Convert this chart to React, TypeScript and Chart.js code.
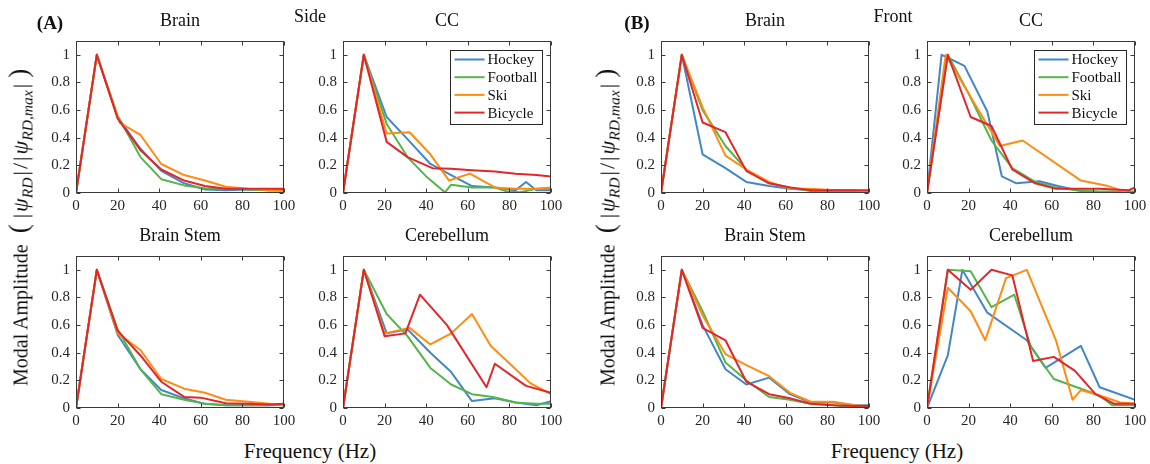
import React, { useEffect, useRef } from "react";
import { Chart, registerables } from "chart.js";

Chart.register(...registerables);

type Pt = [number, number];

const seriesNames = ["Hockey", "Football", "Ski", "Bicycle"];
const seriesColors = ["#4387c7", "#55b548", "#ff8c12", "#e3262a"];
const xTicks = [0, 20, 40, 60, 80, 100];
const yTicks = [0, 0.2, 0.4, 0.6, 0.8, 1];

// ---- (A) Side ----
const sideBrainHockey: Pt[] = [[0, 0], [10, 1], [20, 0.55], [31, 0.32], [41, 0.16], [52, 0.07], [62, 0.025], [72, 0.02], [83, 0.025], [93, 0.02], [100, 0.02]];
const sideBrainFootball: Pt[] = [[0, 0], [10, 1], [20, 0.56], [31, 0.26], [41, 0.1], [52, 0.055], [62, 0.035], [72, 0.03], [83, 0.025], [93, 0.02], [100, 0.02]];
const sideBrainSki: Pt[] = [[0, 0], [10, 1], [21, 0.51], [31, 0.42], [41, 0.21], [52, 0.13], [62, 0.09], [72, 0.045], [83, 0.03], [93, 0.02], [100, 0.015]];
const sideBrainBicycle: Pt[] = [[0, 0], [10, 1], [20, 0.54], [31, 0.31], [41, 0.17], [52, 0.09], [62, 0.05], [72, 0.03], [83, 0.03], [93, 0.03], [100, 0.03]];

const sideCCHockey: Pt[] = [[0, 0], [10, 1], [21, 0.55], [31, 0.39], [42, 0.21], [52, 0.13], [62, 0.05], [73, 0.04], [83, 0.02], [88, 0.08], [93, 0.02], [100, 0.02]];
const sideCCFootball: Pt[] = [[0, 0], [10, 1], [21, 0.5], [31, 0.26], [40, 0.12], [49, 0.005], [52, 0.06], [62, 0.04], [73, 0.04], [79, 0.01], [85, 0.005], [93, 0.03], [100, 0.03]];
const sideCCSki: Pt[] = [[0, 0], [10, 1], [21, 0.43], [32, 0.44], [42, 0.28], [51, 0.09], [61, 0.14], [73, 0.04], [83, 0.03], [93, 0.03], [100, 0.04]];
const sideCCBicycle: Pt[] = [[0, 0], [10, 1], [21, 0.37], [31, 0.26], [43, 0.18], [52, 0.175], [62, 0.165], [73, 0.155], [83, 0.14], [93, 0.13], [100, 0.12]];

const sideStemHockey: Pt[] = [[0, 0], [10, 1], [20, 0.53], [31, 0.28], [41, 0.13], [52, 0.07], [62, 0.03], [72, 0.02], [83, 0.02], [93, 0.02], [100, 0.03]];
const sideStemFootball: Pt[] = [[0, 0], [10, 1], [20, 0.57], [31, 0.28], [41, 0.1], [52, 0.06], [62, 0.03], [72, 0.02], [83, 0.02], [93, 0.02], [100, 0.02]];
const sideStemSki: Pt[] = [[0, 0], [10, 1], [20, 0.54], [31, 0.42], [41, 0.21], [52, 0.14], [62, 0.11], [72, 0.06], [83, 0.045], [93, 0.03], [100, 0.02]];
const sideStemBicycle: Pt[] = [[0, 0], [10, 1], [20, 0.56], [31, 0.38], [41, 0.19], [52, 0.08], [60, 0.075], [72, 0.035], [83, 0.03], [93, 0.025], [100, 0.03]];

const sideCereHockey: Pt[] = [[0, 0], [10, 1], [21, 0.54], [31, 0.57], [42, 0.4], [52, 0.26], [62, 0.05], [73, 0.07], [83, 0.04], [93, 0.02], [100, 0.05]];
const sideCereFootball: Pt[] = [[0, 0], [10, 1], [21, 0.68], [31, 0.52], [42, 0.29], [52, 0.17], [62, 0.1], [72, 0.08], [83, 0.04], [93, 0.03], [100, 0.03]];
const sideCereSki: Pt[] = [[0, 0], [10, 1], [20, 0.54], [32, 0.58], [42, 0.46], [52, 0.54], [62, 0.68], [71, 0.45], [81, 0.31], [90, 0.18], [100, 0.1]];
const sideCereBicycle: Pt[] = [[0, 0], [10, 1], [20, 0.52], [30, 0.54], [37, 0.82], [50, 0.6], [69, 0.15], [73, 0.32], [88, 0.16], [100, 0.11]];

// ---- (B) Front ----
const frontBrainHockey: Pt[] = [[0, 0], [10, 1], [20, 0.28], [31, 0.18], [41, 0.08], [52, 0.05], [62, 0.03], [72, 0.02], [83, 0.02], [93, 0.01], [100, 0.01]];
const frontBrainFootball: Pt[] = [[0, 0], [10, 1], [20, 0.6], [31, 0.34], [41, 0.17], [52, 0.07], [62, 0.04], [72, 0.015], [83, 0.01], [93, 0.005], [100, 0.005]];
const frontBrainSki: Pt[] = [[0, 0], [10, 1], [20, 0.62], [31, 0.27], [41, 0.17], [52, 0.08], [62, 0.03], [72, 0.03], [83, 0.02], [93, 0.02], [100, 0.01]];
const frontBrainBicycle: Pt[] = [[0, 0], [10, 1], [20, 0.51], [31, 0.44], [41, 0.16], [52, 0.07], [62, 0.04], [72, 0.02], [83, 0.02], [93, 0.02], [100, 0.02]];

const frontCCHockey: Pt[] = [[0, 0], [7, 1], [10, 0.98], [18, 0.92], [29, 0.59], [36, 0.12], [43, 0.07], [54, 0.085], [63, 0.05], [72, 0.02], [78, 0.005], [90, 0.005], [100, 0.005]];
const frontCCFootball: Pt[] = [[0, 0], [10, 1], [20, 0.72], [31, 0.38], [41, 0.18], [52, 0.08], [62, 0.04], [72, 0.02], [83, 0.01], [93, 0.01], [100, 0.01]];
const frontCCSki: Pt[] = [[0, 0], [9, 1], [20, 0.72], [35, 0.34], [46, 0.38], [74, 0.09], [86, 0.055], [97, 0], [100, 0]];
const frontCCBicycle: Pt[] = [[0, 0], [10, 1], [21, 0.55], [31, 0.485], [41, 0.17], [52, 0.07], [62, 0.03], [72, 0.03], [83, 0.03], [97, 0.02], [100, 0.04]];

const frontStemHockey: Pt[] = [[0, 0], [10, 1], [20, 0.6], [31, 0.28], [41, 0.17], [52, 0.22], [62, 0.1], [72, 0.04], [83, 0.04], [93, 0.02], [100, 0.02]];
const frontStemFootball: Pt[] = [[0, 0], [10, 1], [20, 0.7], [31, 0.33], [41, 0.2], [52, 0.08], [62, 0.06], [72, 0.03], [83, 0.02], [93, 0.005], [100, 0.005]];
const frontStemSki: Pt[] = [[0, 0], [10, 1], [20, 0.67], [31, 0.39], [41, 0.31], [52, 0.23], [62, 0.11], [72, 0.045], [83, 0.045], [93, 0.02], [100, 0.015]];
const frontStemBicycle: Pt[] = [[0, 0], [10, 1], [20, 0.58], [31, 0.49], [41, 0.19], [52, 0.1], [62, 0.07], [72, 0.03], [83, 0.02], [93, 0.015], [100, 0.015]];

const frontCereHockey: Pt[] = [[0, 0], [10, 0.38], [17, 1], [29, 0.69], [48, 0.49], [57, 0.29], [74, 0.45], [83, 0.15], [100, 0.06]];
const frontCereFootball: Pt[] = [[0, 0], [10, 1], [21, 0.99], [31, 0.73], [42, 0.82], [50, 0.44], [61, 0.21], [72, 0.15], [83, 0.09], [89, 0.02], [100, 0.02]];
const frontCereSki: Pt[] = [[0, 0], [10, 0.87], [21, 0.7], [28, 0.49], [38, 0.94], [48, 1], [62, 0.49], [70, 0.06], [74, 0.13], [83, 0.09], [93, 0.04], [100, 0.03]];
const frontCereBicycle: Pt[] = [[0, 0], [10, 1], [21, 0.855], [31, 1], [41, 0.96], [51, 0.34], [61, 0.37], [71, 0.27], [81, 0.1], [90, 0.03], [100, 0.03]];

const FONT = "'Liberation Serif', 'DejaVu Serif', serif";

// layout constants
const YW = 45;
const PT = 8;
const PR = 16;
const XH = 26;
const PLOT_H = 159;

type PanelProps = {
  left: number;
  top: number;
  width: number;
  series: Pt[][];
  legend?: boolean;
};

function Panel({ left, top, width, series, legend }: PanelProps) {
  const ref = useRef<HTMLCanvasElement | null>(null);
  const cw = YW + width + PR;
  const ch = PT + PLOT_H + XH;

  useEffect(() => {
    if (!ref.current) return;
    const framePlugin = {
      id: "frameTicks",
      afterDatasetsDraw(chart: any) {
        const { ctx, chartArea: a, scales } = chart;
        ctx.save();
        ctx.strokeStyle = "#3a3a3a";
        ctx.lineWidth = 1;
        const L = Math.round(a.left) + 0.5;
        const R = Math.round(a.right) - 0.5;
        const T = Math.round(a.top) + 0.5;
        const B = Math.round(a.bottom) - 0.5;
        ctx.strokeRect(L, T, R - L, B - T);
        ctx.beginPath();
        const tl = 4;
        xTicks.forEach((v) => {
          const px = Math.round(scales.x.getPixelForValue(v)) + 0.5;
          ctx.moveTo(px, B);
          ctx.lineTo(px, B - tl);
          ctx.moveTo(px, T);
          ctx.lineTo(px, T + tl);
        });
        yTicks.forEach((v) => {
          const py = Math.round(scales.y.getPixelForValue(v)) + 0.5;
          ctx.moveTo(L, py);
          ctx.lineTo(L + tl, py);
          ctx.moveTo(R, py);
          ctx.lineTo(R - tl, py);
        });
        ctx.stroke();

        if (legend) {
          const bw = 92;
          const bh = 74;
          const bx = Math.round(a.right - 9 - bw) + 0.5;
          const by = Math.round(a.top + 9) + 0.5;
          ctx.fillStyle = "#ffffff";
          ctx.fillRect(bx, by, bw, bh);
          ctx.strokeStyle = "#262626";
          ctx.strokeRect(bx, by, bw, bh);
          ctx.font = `15px ${FONT}`;
          ctx.textBaseline = "middle";
          ctx.textAlign = "left";
          seriesNames.forEach((name, i) => {
            const y = by + 9 + i * 17.7;
            ctx.strokeStyle = seriesColors[i];
            ctx.lineWidth = 2;
            ctx.beginPath();
            ctx.moveTo(bx + 4, y);
            ctx.lineTo(bx + 34, y);
            ctx.stroke();
            ctx.fillStyle = "#111";
            ctx.fillText(name, bx + 37, y + 1);
          });
        }
        ctx.restore();
      },
    };

    const chart = new Chart(ref.current, {
      type: "line",
      data: {
        datasets: series.map((pts, i) => ({
          label: seriesNames[i],
          data: pts.map(([x, y]) => ({ x, y })),
          borderColor: seriesColors[i],
          backgroundColor: seriesColors[i],
          borderWidth: 2,
          pointRadius: 0,
          tension: 0,
          fill: false,
          borderJoinStyle: "round" as const,
          order: 3 - i,
        })),
      },
      options: {
        responsive: false,
        animation: false,
        events: [],
        layout: { padding: { top: PT, right: PR, left: 0, bottom: 0 } },
        plugins: { legend: { display: false }, tooltip: { enabled: false } },
        scales: {
          x: {
            type: "linear",
            min: 0,
            max: 100,
            afterBuildTicks: (s: any) => {
              s.ticks = xTicks.map((v) => ({ value: v }));
            },
            afterFit: (s: any) => {
              s.height = XH;
            },
            grid: { display: false, drawTicks: false },
            border: { display: false },
            ticks: {
              padding: 4,
              maxRotation: 0,
              autoSkip: false,
              color: "#262626",
              font: { family: FONT, size: 15 },
              callback: (v: any) => String(v),
            },
          },
          y: {
            type: "linear",
            min: 0,
            max: 1.1,
            afterBuildTicks: (s: any) => {
              s.ticks = yTicks.map((v) => ({ value: v }));
            },
            afterFit: (s: any) => {
              s.width = YW;
            },
            grid: { display: false, drawTicks: false },
            border: { display: false },
            ticks: {
              padding: 6,
              autoSkip: false,
              color: "#262626",
              font: { family: FONT, size: 15 },
              callback: (v: any) => String(v),
            },
          },
        },
      },
      plugins: [framePlugin],
    } as any);
    return () => chart.destroy();
  }, []);

  return (
    <div style={{ position: "absolute", left: left - YW, top: top - PT, width: cw, height: ch }}>
      <canvas ref={ref} width={cw} height={ch} style={{ width: cw, height: ch, display: "block" }} />
    </div>
  );
}

const Txt = ({ x, y, size, bold, children }: any) => (
  <div
    style={{
      position: "absolute",
      left: x,
      top: y,
      transform: "translate(-50%, -50%)",
      fontFamily: FONT,
      fontSize: size,
      fontWeight: bold ? "bold" : "normal",
      whiteSpace: "nowrap",
      color: "#111",
      lineHeight: 1,
    }}
  >
    {children}
  </div>
);

const subStyle: React.CSSProperties = { fontSize: "0.78em", verticalAlign: "-0.3em", fontStyle: "italic", lineHeight: 0 };
const barStyle: React.CSSProperties = { margin: "0 2px", fontSize: "1.1em" };
const parStyle: React.CSSProperties = { fontSize: "1.35em", margin: "0 4px" };

// (x, y) = start point (bottom) of the rotated label; text runs upward
const YLabel = ({ x, y }: any) => (
  <div
    style={{
      position: "absolute",
      left: x,
      top: y,
      transformOrigin: "0 50%",
      transform: "translate(0, -50%) rotate(-90deg)",
      fontFamily: FONT,
      fontSize: 20,
      whiteSpace: "nowrap",
      color: "#111",
      lineHeight: 1,
    }}
  >
    Modal Amplitude{" "}
    <span style={{ ...parStyle, marginLeft: 6 }}>(</span>
    <span style={barStyle}>|</span>
    <i style={{ fontSize: "1.1em" }}>ψ</i>
    <span style={subStyle}>RD</span>
    <span style={barStyle}>|</span>
    <span style={{ fontSize: "1.1em" }}>/</span>
    <span style={barStyle}>|</span>
    <i style={{ fontSize: "1.1em" }}>ψ</i>
    <span style={subStyle}>RD,max</span>
    <span style={barStyle}>|</span>
    <span style={parStyle}>)</span>
  </div>
);

export default function App() {
  const W = 208;
  const colA1 = 76;
  const colA2 = 343;
  const colB1 = 661;
  const colB2 = 927;
  const row1 = 34;
  const row2 = 249;
  return (
    <div style={{ position: "fixed", left: 0, top: 0, width: 1150, height: 464, background: "#fff", overflow: "hidden" }}>
      <Panel left={colA1} top={row1} width={W} series={[sideBrainHockey, sideBrainFootball, sideBrainSki, sideBrainBicycle]} />
      <Panel left={colA2} top={row1} width={W} series={[sideCCHockey, sideCCFootball, sideCCSki, sideCCBicycle]} legend />
      <Panel left={colA1} top={row2} width={W} series={[sideStemHockey, sideStemFootball, sideStemSki, sideStemBicycle]} />
      <Panel left={colA2} top={row2} width={W} series={[sideCereHockey, sideCereFootball, sideCereSki, sideCereBicycle]} />
      <Panel left={colB1} top={row1} width={W} series={[frontBrainHockey, frontBrainFootball, frontBrainSki, frontBrainBicycle]} />
      <Panel left={colB2} top={row1} width={W} series={[frontCCHockey, frontCCFootball, frontCCSki, frontCCBicycle]} legend />
      <Panel left={colB1} top={row2} width={W} series={[frontStemHockey, frontStemFootball, frontStemSki, frontStemBicycle]} />
      <Panel left={colB2} top={row2} width={W} series={[frontCereHockey, frontCereFootball, frontCereSki, frontCereBicycle]} />

      <Txt x={50} y={22} size={19} bold>(A)</Txt>
      <Txt x={180} y={20} size={18}>Brain</Txt>
      <Txt x={310} y={16} size={18}>Side</Txt>
      <Txt x={447} y={20} size={18}>CC</Txt>
      <Txt x={180} y={235} size={18}>Brain Stem</Txt>
      <Txt x={447} y={235} size={18}>Cerebellum</Txt>
      <Txt x={310} y={451} size={21}>Frequency (Hz)</Txt>
      <YLabel x={19} y={386} />

      <Txt x={637} y={22} size={19} bold>(B)</Txt>
      <Txt x={765} y={20} size={18}>Brain</Txt>
      <Txt x={893} y={16} size={18}>Front</Txt>
      <Txt x={1031} y={20} size={18}>CC</Txt>
      <Txt x={765} y={235} size={18}>Brain Stem</Txt>
      <Txt x={1031} y={235} size={18}>Cerebellum</Txt>
      <Txt x={897} y={451} size={21}>Frequency (Hz)</Txt>
      <YLabel x={606} y={386} />
    </div>
  );
}
